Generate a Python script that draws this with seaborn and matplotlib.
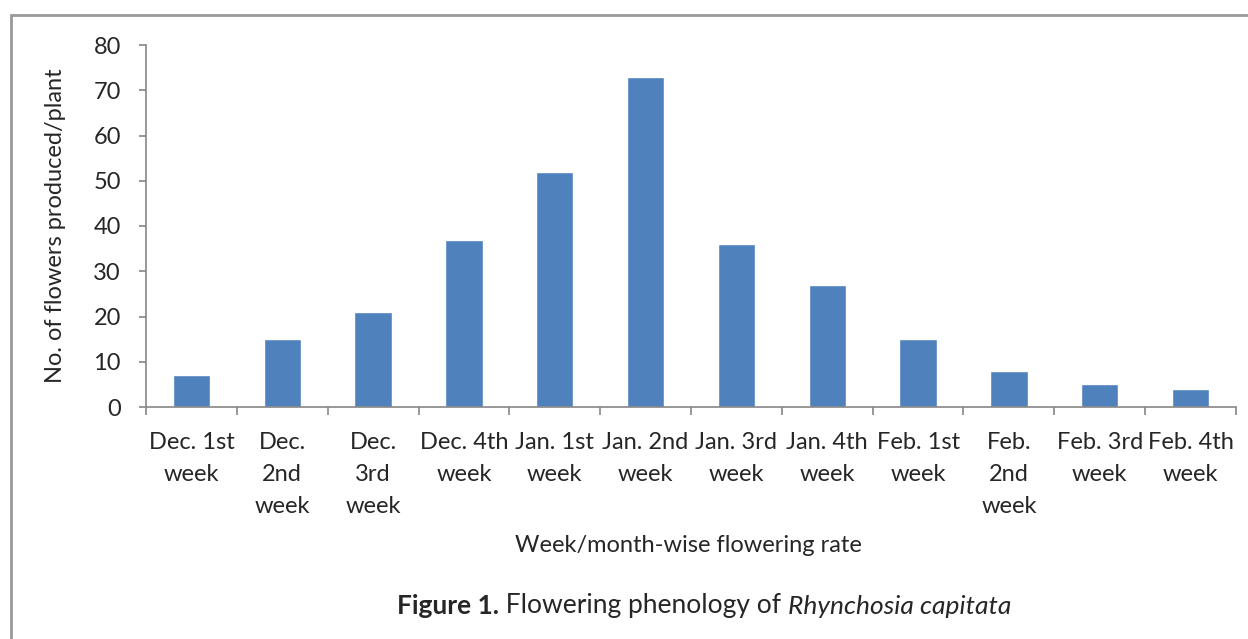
import matplotlib
matplotlib.use("Agg")
import matplotlib.pyplot as plt
import seaborn as sns
import pandas as pd
from matplotlib.patches import Rectangle

# data
weeks = ["Dec. 1st\nweek", "Dec.\n2nd\nweek", "Dec.\n3rd\nweek", "Dec. 4th\nweek",
         "Jan. 1st\nweek", "Jan. 2nd\nweek", "Jan. 3rd\nweek", "Jan. 4th\nweek",
         "Feb. 1st\nweek", "Feb.\n2nd\nweek", "Feb. 3rd\nweek", "Feb. 4th\nweek"]
flowers = [7, 15, 21, 37, 52, 73, 36, 27, 15, 8, 5, 4]
y_ticks = [0, 10, 20, 30, 40, 50, 60, 70, 80]

df = pd.DataFrame({"week": weeks, "flowers": flowers})

sns.set_style("white")
plt.rcParams["font.family"] = ["Lato", "DejaVu Sans"]
FS = 17

fig = plt.figure(figsize=(12.48, 6.39), dpi=100)
ax = fig.add_axes([146 / 1248, 1 - 407 / 639, 1090 / 1248, 362 / 639])

sns.barplot(data=df, x="week", y="flowers", color="#4F81BD", width=0.41,
            saturation=1, ax=ax)

ax.set_ylim(0, 80)
ax.set_xlim(-0.5, len(weeks) - 0.5)
ax.set_yticks(y_ticks)
ax.tick_params(axis="y", labelsize=FS, length=5, color="#868686", width=1.2,
               direction="out", left=True, pad=13)
ax.tick_params(axis="x", which="major", length=0, labelsize=FS, pad=18)
ax.set_xticks([i - 0.5 for i in range(len(weeks) + 1)], minor=True)
ax.tick_params(axis="x", which="minor", length=6, color="#868686", width=1.2,
               direction="out", bottom=True)
for lbl in ax.get_xticklabels():
    lbl.set_linespacing(1.65)

for s in ["top", "right"]:
    ax.spines[s].set_visible(False)
for s in ["left", "bottom"]:
    ax.spines[s].set_color("#868686")
    ax.spines[s].set_linewidth(1.2)

ax.set_xlabel("")
ax.set_ylabel("No. of flowers produced/plant", fontsize=FS, labelpad=20)
fig.text(688 / 1248, 1 - 545 / 639, "Week/month-wise flowering rate",
         ha="center", va="center", fontsize=FS)

# caption, pieces placed one after another
renderer = fig.canvas.get_renderer()
x = 397 / 1248
ycap = 1 - 606 / 639
for txt, kw in [("Figure 1.", {"fontweight": "bold"}),
                (" Flowering phenology of ", {}),
                ("Rhynchosia capitata", {"style": "italic"})]:
    t = fig.text(x, ycap, txt, ha="left", va="center", fontsize=19, **kw)
    bb = t.get_window_extent(renderer)
    x += bb.width / fig.bbox.width

# figure border
fig.patches.append(Rectangle((11 / 1248, -0.1), 1.2, 1 - 15 / 639 + 0.1,
                             transform=fig.transFigure, fill=False,
                             edgecolor="#999999", linewidth=2))

fig.savefig("out.png", dpi=100)
